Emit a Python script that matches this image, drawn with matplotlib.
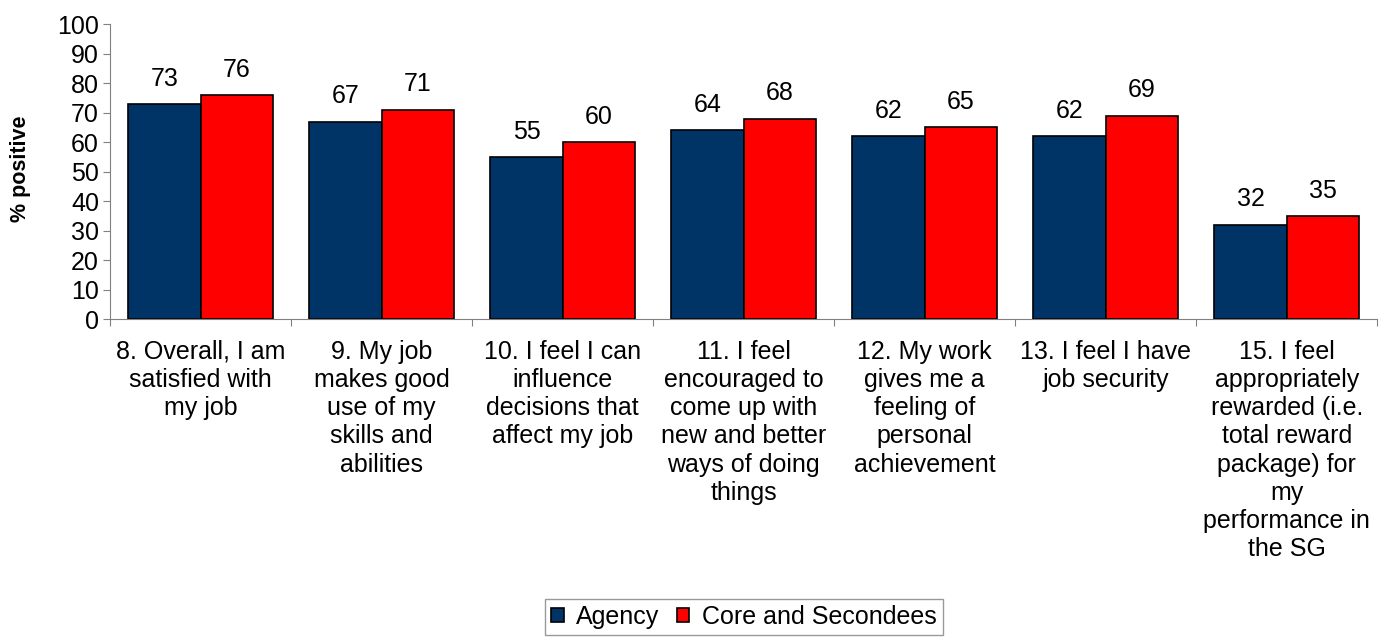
import numpy as np
import matplotlib.pyplot as plt

plt.rcParams['font.family'] = ['Liberation Sans', 'DejaVu Sans']

questions = [
    "8. Overall, I am\nsatisfied with\nmy job",
    "9. My job\nmakes good\nuse of my\nskills and\nabilities",
    "10. I feel I can\ninfluence\ndecisions that\naffect my job",
    "11. I feel\nencouraged to\ncome up with\nnew and better\nways of doing\nthings",
    "12. My work\ngives me a\nfeeling of\npersonal\nachievement",
    "13. I feel I have\njob security",
    "15. I feel\nappropriately\nrewarded (i.e.\ntotal reward\npackage) for\nmy\nperformance in\nthe SG",
]
agency = [73, 67, 55, 64, 62, 62, 32]
core = [76, 71, 60, 68, 65, 69, 35]

fig = plt.figure(figsize=(13.88, 6.37), dpi=100)
ax = fig.add_axes([0.0793, 0.499, 0.913, 0.463])

x = np.arange(len(questions))
w = 0.4
b1 = ax.bar(x - w / 2, agency, w, color='#003366', edgecolor='black', linewidth=1.2, label='Agency')
b2 = ax.bar(x + w / 2, core, w, color='#ff0000', edgecolor='black', linewidth=1.2, label='Core and Secondees')

for bars, vals in ((b1, agency), (b2, core)):
    for r, v in zip(bars, vals):
        ax.text(r.get_x() + r.get_width() / 2, v + 4.5, str(v), ha='center', va='bottom', fontsize=18)

ax.set_xlim(-0.5, len(questions) - 0.5)
ax.set_ylim(0, 100)
ax.set_yticks(range(0, 101, 10))
ax.tick_params(axis='y', labelsize=18, length=5, color='#808080', pad=3)
ax.set_xticks(np.arange(len(questions) + 1) - 0.5)
ax.set_xticklabels([])
ax.tick_params(axis='x', length=5, color='#808080', direction='out')
for i, q in enumerate(questions):
    ax.text(i, -7, q, ha='center', va='top', fontsize=18, linespacing=1.22,
            transform=ax.transData)

for s in ('top', 'right'):
    ax.spines[s].set_visible(False)
ax.spines['left'].set_color('#808080')
ax.spines['bottom'].set_color('#808080')

ax.set_ylabel('% positive', fontsize=15.5, fontweight='bold', va='center', ha='center')
ax.yaxis.set_label_coords(-0.071, 0.51)

# legend sits under the middle of the plot area
leg = fig.legend(loc='lower center', bbox_to_anchor=(0.536, 0.003), ncol=2, fontsize=18,
                 frameon=True, fancybox=False, edgecolor='#808080',
                 handlelength=0.5, handleheight=0.5, handletextpad=0.5,
                 columnspacing=0.7, borderpad=0.25, borderaxespad=0.0)
leg.get_frame().set_linewidth(1.0)

fig.savefig('out.png', dpi=100)
